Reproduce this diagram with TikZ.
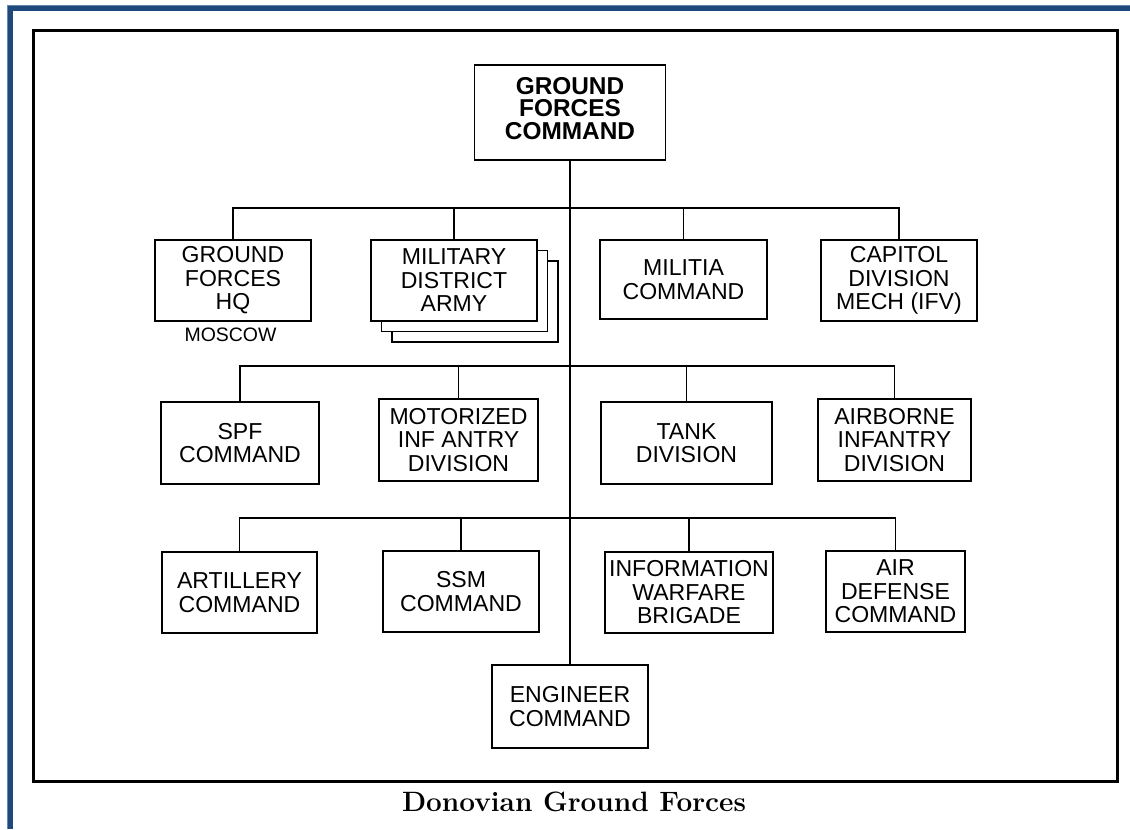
\documentclass[tikz,border=0pt]{standalone}
\usepackage{fontspec}
\setsansfont{Liberation Sans}
\definecolor{frameblue}{RGB}{31,73,125}
\definecolor{edgeblue}{RGB}{100,135,180}
\newcommand{\boxfont}{\sffamily\fontsize{17.3}{17.6}\selectfont}
\newcommand{\topfont}{\sffamily\bfseries\fontsize{18.3}{16.9}\selectfont}
\begin{document}
\begin{tikzpicture}[x=0.75pt,y=-0.75pt,
  box/.style={draw,line width=0.9pt,fill=white,align=center,inner sep=0pt,font=\boxfont},
  sz/.style 2 args={minimum width=#1*0.75pt,minimum height=#2*0.75pt},
  conn/.style={line width=0.9pt},
]
\useasboundingbox (0,0) rectangle (1130,829);
\fill[white] (0,0) rectangle (1130,829);
% outer blue frame (top and left)
\fill[frameblue] (7,5) rectangle (1130,10.5);
\fill[frameblue] (7,5) rectangle (12.7,829);
\draw[edgeblue,line width=0.5pt] (7.3,829) -- (7.3,5.3) -- (1130,5.3);
% black frame
\draw[line width=2.25pt] (33.5,30.5) rectangle (1117.5,781.5);

% top
\node[box,sz={191}{95}] (gfc) at (570,112.5) {};
\node[align=center,inner sep=0pt,font=\topfont] (gfctext) at (570,108.5) {GROUND\\FORCES\\COMMAND};

% row 1
\node[box,sz={156}{81}] (gfhq) at (233,280.5) {GROUND\\FORCES\\HQ};
\node[box,sz={166}{81}] (mda3) at (475,301.5) {};
\node[box,sz={166}{81}] (mda2) at (464.5,291) {};
\node[box,sz={166}{81}] (mda) at (454,280.5) {MILITARY\\DISTRICT\\ARMY};
\node[box,sz={167}{79}] (mil) at (683.5,279.5) {MILITIA\\COMMAND};
\node[box,sz={156}{81}] (capdiv) at (899,280.5) {CAPITOL\\DIVISION\\MECH (IFV)};
\node[anchor=base,font=\sffamily\fontsize{14.6}{16}\selectfont] (moscow) at (230.5,341.7) {MOSCOW};

% row 2
\node[box,sz={158}{82}] (spf) at (240,443) {SPF\\COMMAND};
\node[box,sz={159}{82}] (mot) at (458.5,440) {MOTORIZED\\INF ANTRY\\DIVISION};
\node[box,sz={171}{82}] (tank) at (686.5,443) {TANK\\DIVISION};
\node[box,sz={153}{82}] (air) at (894.5,440) {AIRBORNE\\INFANTRY\\DIVISION};

% row 3
\node[box,sz={155}{81}] (art) at (239.5,592.5) {ARTILLERY\\COMMAND};
\node[box,sz={156}{81}] (ssm) at (461,591.5) {SSM\\COMMAND};
\node[box,sz={168}{81}] (iw) at (689,592.5) {INFORMATION\\WARFARE\\BRIGADE};
\node[box,sz={139}{81}] (ad) at (895.5,591.5) {AIR\\DEFENSE\\COMMAND};

% bottom
\node[box,sz={156}{83}] (eng) at (570,706.5) {ENGINEER\\COMMAND};

% connectors
\coordinate (b1) at (570,208);
\coordinate (b2) at (570,366);
\coordinate (b3) at (570,518);
\draw[conn] (gfc.south) -- (eng.north);
\draw[conn] (gfhq.north) |- (b1) -| (capdiv.north);
\draw[conn] (mda.north) |- (b1);
\draw[conn] (mil.north) |- (b1);
\draw[conn] (spf.north) |- (b2) -| (air.north);
\draw[conn] (mot.north) |- (b2);
\draw[conn] (tank.north) |- (b2);
\draw[conn] (art.north) |- (b3) -| (ad.north);
\draw[conn] (ssm.north) |- (b3);
\draw[conn] (iw.north) |- (b3);

% caption
\node[anchor=base,font=\rmfamily\bfseries\fontsize{21}{24}\selectfont] (caption) at (574,811) {Donovian Ground Forces};
\end{tikzpicture}
\end{document}
